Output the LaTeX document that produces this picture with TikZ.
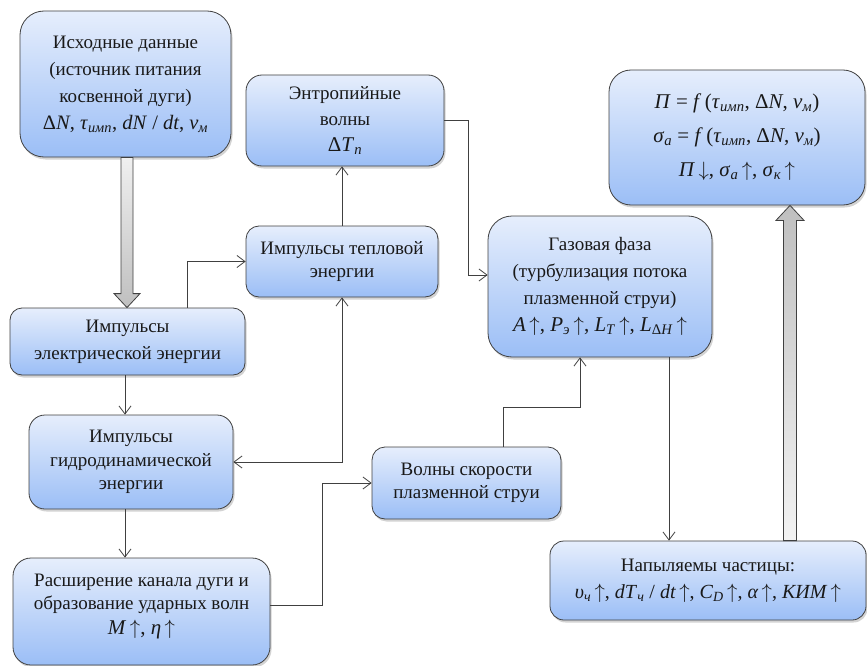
\documentclass[tikz,border=0pt]{standalone}
\usepackage{fontspec}
\setmainfont{Liberation Serif}
\usetikzlibrary{arrows.meta,shadows,calc}
\definecolor{boxtop}{RGB}{230,238,252}
\definecolor{boxbot}{RGB}{155,190,246}
\definecolor{edge}{RGB}{64,64,64}
\newcommand{\iv}[1]{\textit{#1}}
\newcommand{\sbs}[1]{\textsubscript{\textit{#1}}}
\newcommand{\up}{\,$\uparrow$}
\newcommand{\dn}{\,$\downarrow$}
\newcommand{\mf}{\fontsize{21}{27}\selectfont}
\begin{document}
\begin{tikzpicture}[x=1pt,y=-1pt,
  box/.style={draw=edge, line width=0.8pt, top color=boxtop, bottom color=boxbot,
    drop shadow={shadow xshift=1.5pt, shadow yshift=-2.5pt, opacity=0.35},
    align=center, inner sep=0pt, text=black!90, font=\fontsize{19}{25}\selectfont},
  bx/.style n args={3}{box, minimum width=#1, minimum height=#2, rounded corners=#3},
  txt/.style={align=center, inner sep=0pt, text=black!90},
  arr/.style={draw=edge, line width=0.8pt, -{Straight Barb[length=8pt,width=12pt]}},
  arrtwo/.style={draw=edge, line width=0.8pt, {Straight Barb[length=8pt,width=12pt]}-{Straight Barb[length=8pt,width=12pt]}},
  bigarr/.style={draw=edge, line width=0.8pt}]
\useasboundingbox (0,0) rectangle (867,666);

\node[bx={211pt}{146pt}{24pt}, font=\fontsize{19}{27}\selectfont] (n1) at (125.5,84)
  {Исходные данные\\(источник питания\\косвенной дуги)\\{\fontsize{20.5}{27}\selectfont Δ\iv{N}, \iv{τ}\sbs{имп}, \iv{dN} / \iv{dt}, \iv{v}\sbs{м}}};
\node[bx={198pt}{91pt}{16pt}, font=\fontsize{19}{26}\selectfont] (n2) at (345,120.5)
  {Энтропийные\\волны\\{\mf Δ\iv{T}\sbs{п}}};
\node[bx={256pt}{135pt}{22pt}, font=\fontsize{21}{34}\selectfont] (n3) at (737,137.5)
  {\iv{П} = \iv{f}\,(\iv{τ}\sbs{имп}, Δ\iv{N}, \iv{v}\sbs{м})\\
   \iv{σ}\sbs{а} = \iv{f}\,(\iv{τ}\sbs{имп}, Δ\iv{N}, \iv{v}\sbs{м})\\
   \iv{П}\dn, \iv{σ}\sbs{а}\up, \iv{σ}\sbs{к}\up};
\node[bx={192pt}{71pt}{13pt}, font=\fontsize{19}{23}\selectfont] (n4) at (342,261.5)
  {Импульсы тепловой\\энергии};
\node[bx={224pt}{141pt}{24pt}, font=\fontsize{19}{27}\selectfont] (n5) at (600,286.5)
  {Газовая фаза\\(турбулизация потока\\плазменной струи)\\
   {\mf \iv{A}\up, \iv{P}\sbs{э}\up, \iv{L}\sbs{T}\up, \iv{L}\textsubscript{Δ\iv{H}}\up}};
\node[bx={235pt}{67pt}{12pt}, font=\fontsize{19}{27}\selectfont] (n6) at (127.5,341.5)
  {Импульсы\\электрической энергии};
\node[bx={204pt}{94pt}{16pt}, font=\fontsize{19}{23.5}\selectfont] (n7) at (131,462)
  {Импульсы\\гидродинамической\\энергии};
\node[bx={189pt}{72pt}{13pt}, font=\fontsize{19}{23}\selectfont] (n8) at (466.5,483)
  {Волны скорости\\плазменной струи};
\node[bx={257pt}{107pt}{18pt}] (n9) at (141.5,611.5) {};
\node[txt, font=\fontsize{19}{23}\selectfont] (t9) at ($(n9.center)+(0,-5)$)
  {Расширение канала дуги и\\образование ударных волн\\[2pt]{\mf \iv{M}\up, \iv{η}\up}};
\node[bx={316pt}{79pt}{14pt}, font=\fontsize{19}{27}\selectfont] (n10) at (708,580.5)
  {Напыляемы частицы:\\
   {\fontsize{20}{27}\selectfont \iv{υ}\sbs{ч}\up, \iv{dT}\sbs{ч} / \iv{dt}\up, \iv{C}\sbs{D}\up, \iv{α}\up, \iv{КИМ}\up}};

% thin connectors
\coordinate (xa) at (187,0);
\draw[arr] (xa |- n6.north) |- (n4.west);
\coordinate (xb) at (125,0);
\draw[arr] (xb |- n6.south) -- (xb |- n7.north);
\draw[arr] (xb |- n7.south) -- (xb |- n9.north);
\draw[arrtwo] (n4.south) |- (n7.east);
\draw[arr] (n4.north) -- (n4.north |- n2.south);
\coordinate (xf) at (468,0);
\coordinate (yf) at (0,275);
\draw[arr] (n2.east) -| (xf |- yf) -- (yf -| n5.west);
\coordinate (xg) at (322,0);
\draw[arr] ($(n9.east)+(0,-6)$) -| (xg |- n8.west) -- (n8.west);
\coordinate (xh1) at (503,0);
\coordinate (yh) at (0,407);
\coordinate (xh2) at (580,0);
\draw[arr] (xh1 |- n8.north) -- (xh1 |- yh) -- (xh2 |- yh) -- (xh2 |- n5.south);
\coordinate (xi) at (669,0);
\draw[arr] (xi |- n5.south) -- (xi |- n10.north);

% block arrows
\coordinate (xj) at (127,0);
\path[bigarr, top color=gray!12, bottom color=gray!50]
  ($(xj |- n1.south)+(-6,0)$) -- ($(xj |- n6.north)+(-6,-14)$) -- ++(-7,0)
  -- (xj |- n6.north) -- ($(xj |- n6.north)+(13,-14)$) -- ++(-7,0)
  -- ($(xj |- n1.south)+(6,0)$) -- cycle;
\coordinate (xk) at (790,0);
\path[bigarr, top color=gray!50, bottom color=gray!10]
  ($(xk |- n10.north)+(-6.5,0)$) -- ($(xk |- n3.south)+(-6.5,15)$) -- ++(-7.5,0)
  -- (xk |- n3.south) -- ($(xk |- n3.south)+(14,15)$) -- ++(-7.5,0)
  -- ($(xk |- n10.north)+(6.5,0)$) -- cycle;
\end{tikzpicture}
\end{document}
